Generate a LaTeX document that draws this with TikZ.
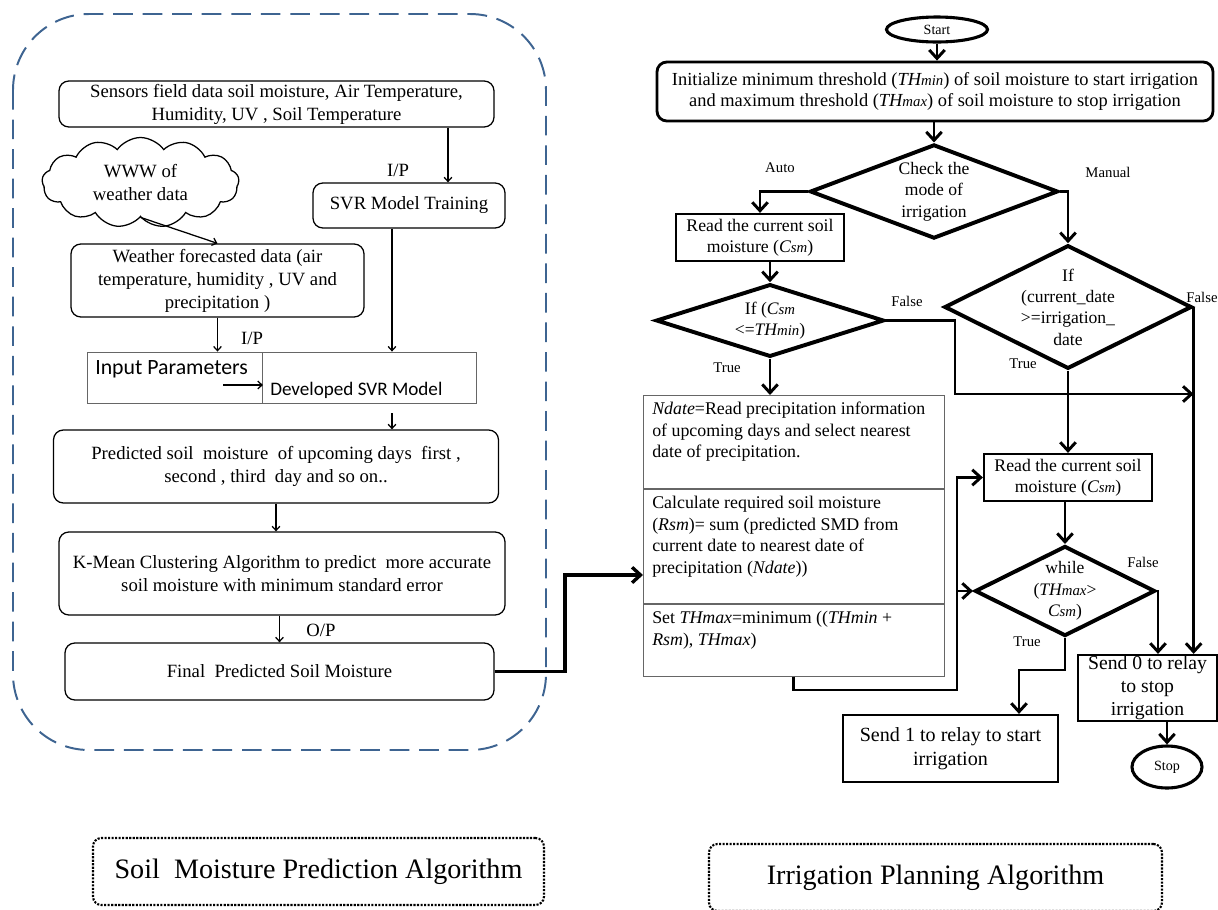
\documentclass[tikz,border=0pt]{standalone}
\usepackage{fontspec}
\setmainfont{Liberation Serif}
\newfontfamily\calibri{Carlito}
\usetikzlibrary{shapes.geometric,shapes.symbols,arrows.meta}

\definecolor{framebl}{RGB}{62,100,145}

% italic variable with a smaller tail, as THmin, Csm
\newcommand{\vsm}[2]{\textit{#1{\fontsize{10.5}{12}\selectfont #2}}}

\tikzset{
  sz/.style 2 args={minimum width=#1*0.025cm, minimum height=#2*0.025cm},
  ltxt/.style={font=\fontsize{13.3}{16.3}\selectfont, align=center},
  rtxt/.style={font=\fontsize{12.7}{15.3}\selectfont, align=left, inner sep=0pt},
  rbox/.style={draw, line width=0.9pt, rounded corners=7pt, inner sep=0pt, ltxt},
  pbox/.style={draw, line width=1.6pt, inner sep=0pt, align=center, font=\fontsize{12.6}{15.3}\selectfont},
  gbox/.style={draw=black!60, line width=0.6pt, inner sep=0pt},
  dec/.style={diamond, aspect=2, draw, line width=2.8pt, inner sep=0pt, align=center, font=\fontsize{12.5}{15.2}\selectfont},
  term/.style={ellipse, draw, line width=2.2pt, inner sep=0pt, font=\fontsize{10}{12}\selectfont},
  lbl/.style={font=\fontsize{10.5}{12}\selectfont, inner sep=1pt},
  capbox/.style={draw, line width=1.5pt, densely dotted, rounded corners=6pt, inner sep=0pt, font=\fontsize{20}{22}\selectfont},
  sarr/.style={-{Straight Barb[length=3pt,width=5.5pt]}, line width=0.9pt},
  flow/.style={-{Straight Barb[length=6pt,width=11pt]}, line width=2.1pt},
}

\begin{document}
\begin{tikzpicture}[x=0.025cm, y=-0.025cm]
    \useasboundingbox (0,0) rectangle (1218,909);
    % soil moisture prediction: dashed frame and boxes
    \begin{scope}
      \draw[framebl, line width=1.4pt, dash pattern=on 14pt off 7pt, rounded corners=1.9cm]
        (13,14) rectangle (546,750);
      \node[rbox, sz={435}{46}] (sensors) at (276.5,104)
        {Sensors field data soil moisture, Air Temperature,\\Humidity, UV , Soil Temperature};
      \node[cloud, draw, cloud puffs=13, cloud puff arc=110, cloud ignores aspect, line width=0.9pt,
        inner sep=0pt, sz={197}{90}, ltxt] (www) at (140.5,182.5) {WWW of\\weather data};
      \node[rbox, sz={192}{45}] (svrtrain) at (409,205.5) {SVR Model Training};
      \node[rbox, sz={293}{73}] (weather) at (217.5,280.5)
        {Weather forecasted data (air\\temperature, humidity , UV and\\precipitation )};
      \node[gbox, sz={175}{51}] (inpar) at (175,377.5) {};
      \node[gbox, sz={213.5}{51}] (devsvr) at (369.25,377.5) {};
      \node[anchor=west, inner sep=0pt, font=\calibri\fontsize{15.5}{17}\selectfont] (inpartxt) at (95,369) {Input Parameters};
      \node[anchor=west, inner sep=0pt, font=\calibri\fontsize{13.6}{15}\selectfont] (devsvrtxt) at (270,390) {Developed SVR Model};
      \node[rbox, sz={445}{73}] (predicted) at (276,466.5)
        {Predicted soil\ \ moisture\ \ of upcoming days\ \ first ,\\second , third\ \ day and so on..};
      \node[rbox, sz={446}{83}] (kmean) at (282,573.5)
        {K-Mean Clustering Algorithm to predict\ \ more accurate\\soil moisture with minimum standard error};
      \node[rbox, sz={429}{57}] (final) at (279.5,671.5) {Final\ \ Predicted Soil Moisture};
      \node[ltxt] (ipa) at (398,170) {I/P};
      \node[ltxt] (ipb) at (252,338) {I/P};
      \node[ltxt] (opa) at (321,630) {O/P};
      % connectors
      \coordinate (colA) at (392,0);
      \coordinate (colB) at (448,0);
      \coordinate (parfrom) at (223,385);
      \draw[sarr] (sensors.south -| colB) -- (svrtrain.north -| colB);
      \draw[sarr] (www.south) -- (weather.north);
      \draw[sarr] (weather.south) -- (weather.south |- inpar.north);
      \draw[sarr] (svrtrain.south -| colA) -- (devsvr.north -| colA);
      \draw[sarr] (parfrom) -- (parfrom -| inpar.east);
      \draw[sarr, shorten <=0.25cm] (devsvr.south -| colA) -- (predicted.north -| colA);
      \draw[sarr] (predicted.south) -- (predicted.south |- kmean.north);
      \draw[sarr] (kmean.south -| final.north) -- (final.north);
    \end{scope}
    % irrigation planning: flowchart
    \begin{scope}
      \node[term, sz={101}{25}] (start) at (937,29.5) {Start};
      \node[pbox, rounded corners=7pt, line width=2pt, sz={556}{59}, font=\fontsize{13.1}{15.5}\selectfont] (init) at (935,91.5)
        {Initialize minimum threshold (\vsm{TH}{min}) of soil moisture to start irrigation\\
         and maximum threshold (\vsm{TH}{max}) of soil moisture to stop irrigation};
      \node[dec, sz={248}{89}] (mode) at (934,191.5) {Check the\\mode of\\irrigation};
      \node[pbox, sz={168}{47}] (read1) at (760,237.5) {Read the current soil\\moisture (\vsm{C}{sm})};
      \node[dec, sz={228}{67}] (ifcsm) at (770,320.5) {If (\vsm{C}{sm}\\<=\vsm{TH}{min})};
      \node[dec, sz={232}{108}] (ifdate) at (1068,307) {If\\(current\_date\\>=irrigation\_\\date};
      \node[gbox, sz={301}{93}, anchor=north west] (ndbox) at (643,395) {};
      \node[gbox, sz={301}{114}, anchor=north west] (rsmbox) at (ndbox.south west) {};
      \node[gbox, sz={301}{72}, anchor=north west] (setbox) at (rsmbox.south west) {};
      \node[rtxt, anchor=north west] (ndtxt) at (652,402)
        {\textit{Ndate}=Read precipitation information\\of upcoming days and select nearest\\date of precipitation.};
      \node[rtxt, anchor=north west] (rsmtxt) at (652,496)
        {Calculate required soil moisture\\(\textit{Rsm})= sum (predicted SMD from\\current date to nearest date of\\precipitation (\textit{Ndate}))};
      \node[rtxt, anchor=north west] (settxt) at (652,611)
        {Set \textit{THmax}=minimum ((\textit{THmin} +\\\textit{Rsm}), \textit{THmax})};
      \node[pbox, sz={168}{47}] (read2) at (1068,477.5) {Read the current soil\\moisture (\vsm{C}{sm})};
      \node[dec, sz={170}{73}] (whilecheck) at (1065,591) {while\\(\vsm{TH}{max}>\\\vsm{C}{sm})};
      \node[pbox, sz={215}{67}, font=\fontsize{14.3}{17.5}\selectfont] (send1) at (950.5,748.5)
        {Send 1 to relay to start\\irrigation};
      \node[pbox, sz={139}{66}, font=\fontsize{14}{16.5}\selectfont] (send0) at (1147.5,688)
        {Send 0 to relay\\to stop\\irrigation};
      \node[term, sz={70}{42}] (stop) at (1167,767) {Stop};
      \foreach [count=\i] \px/\py/\t in {780/168/Auto, 1108/172/Manual, 907/301/False, 727/368/True,
          1202/297/False, 1023/364/True, 1143/562/False, 1027/642/True}
        \node[lbl] (lab\i) at (\px,\py) {\t};
      % connectors
      \coordinate (fbend) at (955,394);
      \coordinate (loopx) at (957,690);
      \coordinate (wfalse) at (1158,591);
      \coordinate (tbend) at (1019,670);
      \draw[flow] (start.south) -- (start.south |- init.north);
      \draw[flow] (init.south -| mode.north) -- (mode.north);
      \draw[flow] (mode.west) -| (read1.north);
      \draw[flow] (mode.east) -| (ifdate.north);
      \draw[flow] (read1.south -| ifcsm.north) -- (ifcsm.north);
      \draw[flow] (ifcsm.south) -- (ifcsm.south |- ndbox.north);
      \draw[flow] (ifcsm.east) -| (fbend) -- (fbend -| ifdate.east);
      \draw[flow] (ifdate.east) -- (ifdate.east |- send0.north);
      \draw[flow] (ifdate.south) -- (read2.north);
      \draw[flow] (read2.south -| whilecheck.north) -- (whilecheck.north);
      \draw[flow] (setbox.south) |- (loopx) |- (read2.west);
      \draw[flow] (loopx) |- (whilecheck.west);
      \draw[flow] (whilecheck.east) -- (wfalse) -- (wfalse |- send0.north);
      \draw[flow] (whilecheck.south) |- (tbend) -- (tbend |- send1.north);
      \draw[flow] (send0.south -| stop.north) -- (stop.north);
    \end{scope}
    % link from prediction to planning
    \coordinate (jog) at (565,575);
    \draw[flow, line width=2.4pt] (final.east) -| (jog) -- (jog -| ndbox.west);
    % captions
    \node[capbox, sz={451}{67}] (smpa) at (318.5,871.5) {Soil\ \ Moisture Prediction Algorithm};
    \node[capbox, sz={453}{67}] (ipla) at (935.5,877.5) {Irrigation Planning Algorithm};
  \end{tikzpicture}
\end{document}
